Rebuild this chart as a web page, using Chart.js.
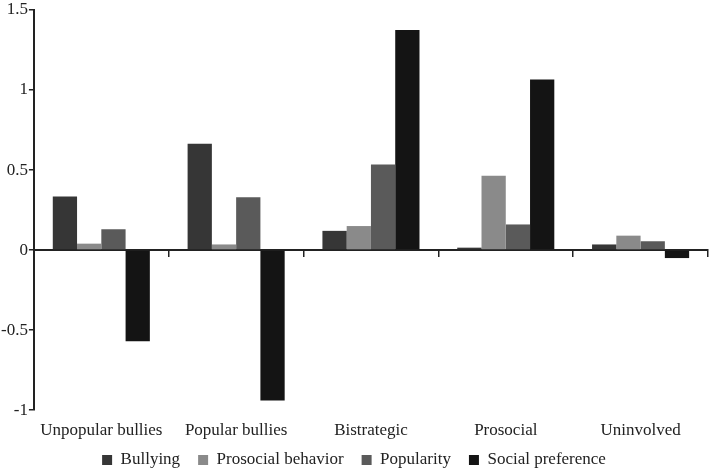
<!DOCTYPE html>
<html>
<head>
<meta charset="utf-8">
<script src="https://cdn.jsdelivr.net/npm/chart.js@4/dist/chart.umd.min.js"></script>
<style>
  html, body { margin: 0; padding: 0; background: #fff; }
  #wrap { width: 709px; height: 468px; }
</style>
</head>
<body>
<div id="wrap"><canvas id="chart"></canvas></div>
<script>
const groups = ["Unpopular bullies", "Popular bullies", "Bistrategic", "Prosocial", "Uninvolved"];
const bullying = [0.335, 0.665, 0.12, 0.015, 0.035];
const prosocialBehavior = [0.04, 0.035, 0.15, 0.465, 0.09];
const popularity = [0.13, 0.33, 0.535, 0.16, 0.055];
const socialPreference = [-0.57, -0.94, 1.375, 1.065, -0.05];
const yTicks = [-1, -0.5, 0, 0.5, 1, 1.5];

const serif = "'Liberation Serif', 'Times New Roman', serif";
const ink = "#222";

const ctx = document.getElementById("chart").getContext("2d");
new Chart(ctx, {
  type: "bar",
  data: {
    labels: groups,
    datasets: [
      { label: "Bullying", data: bullying, backgroundColor: "#363636" },
      { label: "Prosocial behavior", data: prosocialBehavior, backgroundColor: "#8a8a8a" },
      { label: "Popularity", data: popularity, backgroundColor: "#5a5a5a" },
      { label: "Social preference", data: socialPreference, backgroundColor: "#141414" }
    ]
  },
  options: {
    responsive: true,
    maintainAspectRatio: false,
    animation: false,
    layout: { padding: { top: 10, right: 1, left: 0, bottom: -10.5 } },
    datasets: {
      bar: { categoryPercentage: 0.72, barPercentage: 1 }
    },
    plugins: {
      legend: {
        position: "bottom",
        labels: {
          font: { family: serif, size: 17 },
          color: ink,
          boxWidth: 10,
          boxHeight: 10,
          padding: 1,
          generateLabels: chart => {
            const items = Chart.defaults.plugins.legend.labels.generateLabels(chart);
            // em space after each label but the last, to widen the gaps
            items.forEach((it, i) => { if (i < items.length - 1) it.text += "\u2003"; });
            return items;
          }
        }
      },
      tooltip: { enabled: false }
    },
    scales: {
      x: {
        grid: { display: false, drawTicks: false },
        border: { display: false },
        ticks: { font: { family: serif, size: 17 }, color: ink, padding: 10 }
      },
      zero: {
        type: "category",
        axis: "x",
        position: { y: 0 },
        offset: true,
        grid: { display: true, offset: true, drawOnChartArea: false, drawTicks: true, tickLength: 6, color: ink, lineWidth: 1.5 },
        border: { display: true, color: ink, width: 2 },
        ticks: { display: false }
      },
      y: {
        min: -1,
        max: 1.5,
        afterBuildTicks: axis => { axis.ticks = yTicks.map(v => ({ value: v })); },
        grid: { drawOnChartArea: false, drawTicks: true, tickLength: 5, color: ink, lineWidth: 1.5 },
        border: { display: true, color: ink, width: 2 },
        ticks: { font: { family: serif, size: 17, lineHeight: 0.8 }, color: ink, padding: 1, callback: v => String(v) }
      }
    }
  }
});
</script>
</body>
</html>
